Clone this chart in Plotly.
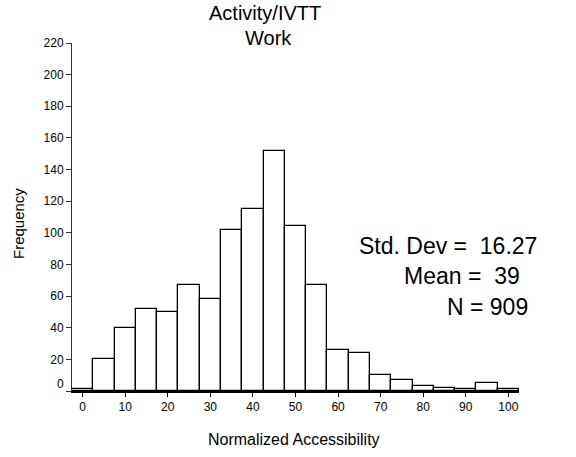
import plotly.graph_objects as go

# Data (bins of width 5 centred on 0..100)
bin_centers = [0, 5, 10, 15, 20, 25, 30, 35, 40, 45, 50, 55, 60, 65, 70, 75, 80, 85, 90, 95, 100]
frequencies = [1, 20, 40, 52, 50, 67, 58, 102, 115, 152, 104, 67, 26, 24, 10, 7, 3, 2, 1, 5, 1]
x_ticks = [0, 10, 20, 30, 40, 50, 60, 70, 80, 90, 100]
y_ticks = [0, 20, 40, 60, 80, 100, 120, 140, 160, 180, 200, 220]
stats_lines = ["Std. Dev =\u00a0\u00a016.27", "Mean =\u00a0\u00a039", "N = 909"]
title_lines = ["Activity/IVTT", "Work"]
x_title = "Normalized Accessibility"
y_title = "Frequency"

W, H = 576, 457
L, R, T, B = 72, 57, 43, 66
pw, ph = W - L - R, H - T - B

def px(x):  # window pixel -> paper fraction
    return (x - L) / pw

def py(y):
    return (H - B - y) / ph

FONT = "Arial, Liberation Sans, Helvetica, sans-serif"

fig = go.Figure()
fig.add_trace(go.Bar(
    x=bin_centers, y=frequencies, width=5,
    marker=dict(color="white", line=dict(color="black", width=1.3)),
    showlegend=False,
))

annotations = []
# title lines
for txt, (ax_, ay_) in zip(title_lines, [(265, 13), (268, 38)]):
    annotations.append(dict(text=txt, xref="paper", yref="paper", x=px(ax_), y=py(ay_),
                            xanchor="center", yanchor="middle", showarrow=False,
                            font=dict(family=FONT, size=20, color="black")))
# stats text (centre positions)
stat_pos = [(448, 246), (462, 276), (487, 307)]
for txt, (ax_, ay_) in zip(stats_lines, stat_pos):
    annotations.append(dict(text=txt, xref="paper", yref="paper", x=px(ax_), y=py(ay_),
                            xanchor="center", yanchor="middle", showarrow=False,
                            font=dict(family=FONT, size=23, color="black")))
# axis titles
annotations.append(dict(text=y_title, xref="paper", yref="paper", x=px(18), y=py(224),
                        xanchor="center", yanchor="middle", textangle=-90, showarrow=False,
                        font=dict(family=FONT, size=15, color="black")))
annotations.append(dict(text=x_title, xref="paper", yref="paper", x=px(294), y=py(439),
                        xanchor="center", yanchor="middle", showarrow=False,
                        font=dict(family=FONT, size=16, color="black")))
# raised zero label
annotations.append(dict(text="0", xref="paper", yref="y", x=px(66), y=0, yshift=7,
                        xanchor="right", yanchor="middle", showarrow=False,
                        font=dict(family=FONT, size=12, color="black")))

fig.update_layout(
    width=W, height=H,
    margin=dict(l=L, r=R, t=T, b=B, pad=0),
    paper_bgcolor="white", plot_bgcolor="white",
    bargap=0,
    font=dict(family=FONT, size=12, color="black"),
    xaxis=dict(range=[-2.5, 102.5], tickvals=x_ticks, ticktext=[str(v) for v in x_ticks],
               ticks="outside", ticklen=4, tickwidth=1, tickcolor="black",
               showgrid=False, zeroline=False, showline=True, linecolor="black", linewidth=2,
               tickfont=dict(family=FONT, size=12, color="black")),
    yaxis=dict(range=[0, 220], tickvals=y_ticks,
               ticktext=["" if v == 0 else str(v) for v in y_ticks],
               ticks="outside", ticklen=5, tickwidth=1, tickcolor="#333",
               showgrid=False, zeroline=False, showline=True, linecolor="#333", linewidth=1,
               tickfont=dict(family=FONT, size=12, color="black")),
    annotations=annotations,
)

fig.write_html("out.html", config={"displayModeBar": False},
               post_script="document.body.style.margin='0';")
